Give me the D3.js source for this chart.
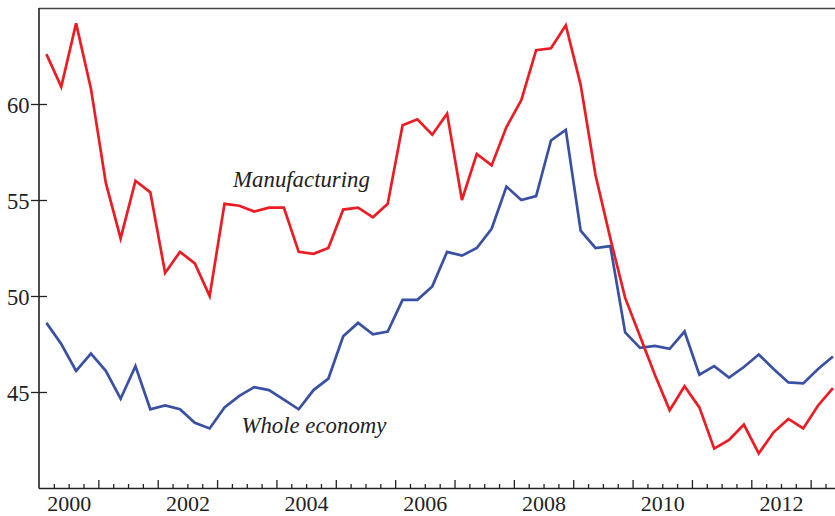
<!DOCTYPE html>
<html>
<head>
<meta charset="utf-8">
<script src="https://cdn.jsdelivr.net/npm/d3@7"></script>
<style>
  html, body { margin: 0; padding: 0; background: #fff; }
  svg { display: block; }
  .tick text { font-family: "Liberation Serif", "Times New Roman", serif; }
</style>
</head>
<body>
<svg id="chart" width="835" height="516"></svg>
<script>
// Quarterly series, 2000 Q1 – 2013 Q2
const startYear = 2000;
const manufacturing = [
  62.6, 60.9, 64.2, 60.8, 55.9, 53.0, 56.0, 55.4,
  51.2, 52.3, 51.7, 50.0, 54.8, 54.7, 54.4, 54.6,
  54.6, 52.3, 52.2, 52.5, 54.5, 54.6, 54.1, 54.8,
  58.9, 59.2, 58.4, 59.5, 55.0, 57.4, 56.8, 58.8,
  60.2, 62.8, 62.9, 64.1, 61.0, 56.3, 53.0, 49.9,
  47.9, 45.9, 44.05, 45.3, 44.2, 42.05, 42.5, 43.3,
  41.8, 42.9, 43.6, 43.1, 44.3, 45.2
];
const wholeEconomy = [
  48.6, 47.5, 46.1, 47.0, 46.1, 44.65, 46.35, 44.1,
  44.3, 44.1, 43.4, 43.1, 44.2, 44.8, 45.25, 45.1,
  44.6, 44.1, 45.1, 45.7, 47.9, 48.6, 48.0, 48.15,
  49.8, 49.8, 50.5, 52.3, 52.1, 52.5, 53.5, 55.7,
  55.0, 55.2, 58.1, 58.65, 53.4, 52.5, 52.6, 48.1,
  47.3, 47.4, 47.25, 48.15, 45.9, 46.35, 45.75, 46.3,
  46.95, 46.2, 45.5, 45.45, 46.2, 46.85
];
const yTicks = [45, 50, 55, 60];
const xLabelYears = [2000, 2002, 2004, 2006, 2008, 2010, 2012];
const seriesLabels = ["Manufacturing", "Whole economy"];

const colors = { manu: "#ec1c24", whole: "#3a51a3" };

const svg = d3.select("#chart");
const pL = 39, pR = 835, pT = 8, pB = 488;

const x = d3.scaleLinear().domain([2000, 2013.41]).range([pL, pR]);
const y = d3.scaleLinear().domain([40, 65]).range([pB, pT]);

const tOf = i => startYear + (i + 0.5) / 4;

// frame top line
svg.append("line")
  .attr("x1", pL).attr("x2", pR).attr("y1", pT + 0.5).attr("y2", pT + 0.5)
  .attr("stroke", "#444").attr("stroke-width", 1.4);

// minor quarter ticks (inward)
const quarters = d3.range(2000.25, 2013.41, 0.25).filter(v => Math.abs(v - Math.round(v)) > 0.01);
const years = d3.range(2001, 2014);
const gx = svg.append("g").attr("transform", `translate(0,${pB})`);
gx.call(d3.axisBottom(x).tickValues(quarters).tickSize(-4).tickFormat(""))
  .call(g => g.select(".domain").remove());
gx.append("g").call(d3.axisBottom(x).tickValues(years).tickSize(-8).tickFormat(""))
  .call(g => g.select(".domain").remove());
gx.selectAll(".tick line").attr("stroke", "#222").attr("stroke-width", 1.3);

// x labels centred on each year
const gxl = svg.append("g").attr("transform", `translate(0,${pB})`)
  .call(d3.axisBottom(x).tickValues(xLabelYears.map(v => v + 0.5)).tickSize(0)
        .tickFormat(d => String(Math.floor(d))).tickPadding(7.5));
gxl.select(".domain").remove();
gxl.selectAll("text").attr("font-size", 22).attr("fill", "#222")
  .attr("font-family", "'Liberation Serif', serif");

// y axis ticks crossing the spine
const gy = svg.append("g").attr("transform", `translate(${pL},0)`)
  .call(d3.axisLeft(y).tickValues(yTicks).tickSize(8).tickPadding(1.5));
gy.select(".domain").remove();
gy.selectAll(".tick line").attr("x2", 8).attr("x1", -8).attr("stroke", "#222").attr("stroke-width", 1.3);
gy.selectAll("text").attr("font-size", 22.5).attr("fill", "#222")
  .attr("font-family", "'Liberation Serif', serif").attr("dy", "0.36em");

// spines
svg.append("line").attr("x1", pL).attr("x2", pL).attr("y1", pT).attr("y2", pB + 0.5)
  .attr("stroke", "#222").attr("stroke-width", 1.6);
svg.append("line").attr("x1", pL).attr("x2", pR).attr("y1", pB + 0.5).attr("y2", pB + 0.5)
  .attr("stroke", "#222").attr("stroke-width", 1.6);

const line = d3.line().x((d, i) => x(tOf(i))).y(d => y(d));

svg.append("path").datum(wholeEconomy)
  .attr("d", line).attr("fill", "none")
  .attr("stroke", colors.whole).attr("stroke-width", 2.7).attr("stroke-linejoin", "miter");
svg.append("path").datum(manufacturing)
  .attr("d", line).attr("fill", "none")
  .attr("stroke", colors.manu).attr("stroke-width", 2.7).attr("stroke-linejoin", "miter");

// series labels
svg.append("text").text(seriesLabels[0])
  .attr("x", x(2003.27)).attr("y", y(55.68))
  .attr("font-family", "'Liberation Serif', serif").attr("font-style", "italic")
  .attr("font-size", 22.8).attr("fill", "#222");
svg.append("text").text(seriesLabels[1])
  .attr("x", x(2003.41)).attr("y", y(42.88))
  .attr("font-family", "'Liberation Serif', serif").attr("font-style", "italic")
  .attr("font-size", 22.8).attr("fill", "#222");
</script>
</body>
</html>
